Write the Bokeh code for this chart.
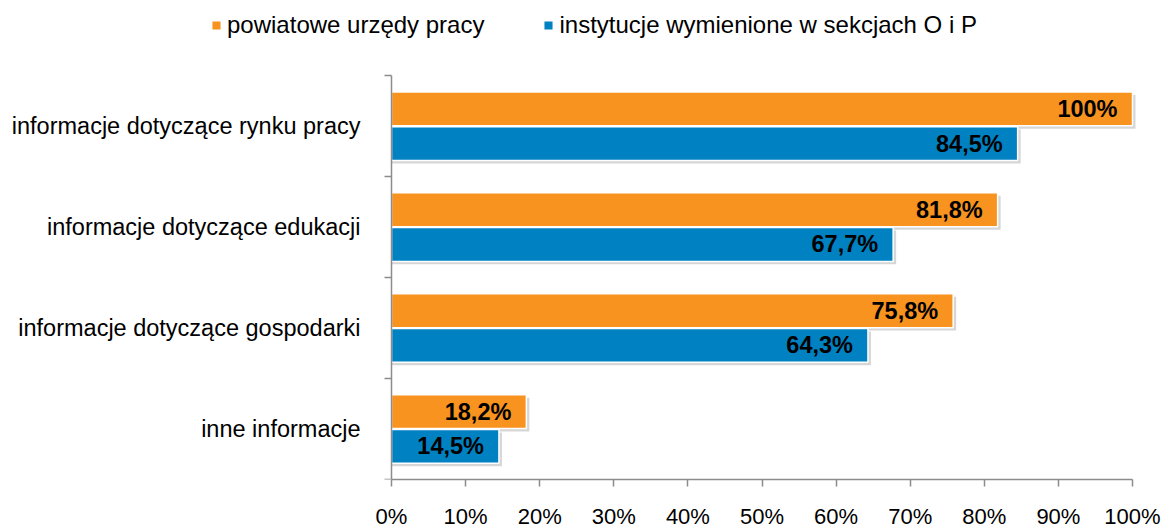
from bokeh.plotting import figure
from bokeh.models import Range1d, FixedTicker, Legend, LegendItem, ColumnDataSource
from bokeh.core.properties import value
from bokeh.embed import file_html
from bokeh.resources import INLINE

categories = ["informacje dotyczące rynku pracy", "informacje dotyczące edukacji",
              "informacje dotyczące gospodarki", "inne informacje"]
pup_values = [100, 81.8, 75.8, 18.2]
inst_values = [84.5, 67.7, 64.3, 14.5]
pup_labels = ["100%", "81,8%", "75,8%", "18,2%"]
inst_labels = ["84,5%", "67,7%", "64,3%", "14,5%"]
series_names = ["powiatowe urzędy pracy", "instytucje wymienione w sekcjach O i P"]
x_ticks = [0, 10, 20, 30, 40, 50, 60, 70, 80, 90, 100]

ORANGE = "#F7931E"
BLUE = "#0081C2"
AXIS = "#8C8C8C"
FONT = "Liberation Sans"

# layout (pixels)
W, H = 1165, 531
X0_PX, X100_PX = 391, 1132      # where 0% and 100% sit
TOP_PX, BOT_PX = 76, 484        # top / bottom of category area
BOTTOM_BORDER = H - BOT_PX

n = len(categories)
px_per_unit_x = (X100_PX - X0_PX) / 100.0
px_per_unit_y = (BOT_PX - TOP_PX) / n
x_lo = -X0_PX / px_per_unit_x
x_hi = 100 + (W - X100_PX) / px_per_unit_x
y_hi = n + TOP_PX / px_per_unit_y

centers = [n - i - 0.5 for i in range(n)]
off = 0.172
bar_h = 0.335
sh_x = 3 / px_per_unit_x
sh_y = 3 / px_per_unit_y

src_o = ColumnDataSource(dict(y=[c + off for c in centers], v=pup_values, lab=pup_labels,
                              ys=[c + off - sh_y for c in centers], vs=[v + sh_x for v in pup_values]))
src_b = ColumnDataSource(dict(y=[c - off for c in centers], v=inst_values, lab=inst_labels,
                              ys=[c - off - sh_y for c in centers], vs=[v + sh_x for v in inst_values]))

p = figure(width=W, height=H, output_backend="svg", toolbar_location=None,
           x_range=Range1d(x_lo, x_hi), y_range=Range1d(0, y_hi),
           min_border_left=0, min_border_right=0, min_border_top=0,
           min_border_bottom=BOTTOM_BORDER)
p.outline_line_color = None
p.grid.visible = False
p.background_fill_color = "white"

for src in (src_o, src_b):
    p.hbar(y="ys", left=0, right="vs", height=bar_h, source=src,
           fill_color="black", fill_alpha=0.16, line_color=None)

r_o = p.hbar(y="y", left=0, right="v", height=bar_h, source=src_o,
             fill_color=ORANGE, line_color="white", line_width=1.5)
r_b = p.hbar(y="y", left=0, right="v", height=bar_h, source=src_b,
             fill_color=BLUE, line_color="white", line_width=1.5)

for src in (src_o, src_b):
    p.text(x="v", y="y", text="lab", source=src, x_offset=-15,
           text_align="right", text_baseline="middle",
           text_font=value(FONT), text_font_size="23.5px", text_font_style="bold",
           text_color="black")

xa = p.xaxis[0]
xa.bounds = (0, 100)
xa.ticker = FixedTicker(ticks=x_ticks, minor_ticks=[])
xa.major_label_overrides = {t: f"{t}%" for t in x_ticks}
xa.major_label_text_font = FONT
xa.major_label_text_font_size = "22px"
xa.major_label_text_color = "black"
xa.axis_line_color = AXIS
xa.axis_line_width = 1.5
xa.major_tick_line_color = AXIS
xa.major_tick_line_width = 1.5
xa.major_tick_out = 7
xa.major_tick_in = 0
xa.major_label_standoff = 17

ya = p.yaxis[0]
ya.fixed_location = 0
ya.bounds = (0, n)
ya.ticker = FixedTicker(ticks=centers, minor_ticks=list(range(n + 1)))
ya.major_label_overrides = {c: categories[i] for i, c in enumerate(centers)}
ya.major_label_text_font = FONT
ya.major_label_text_font_size = "23.5px"
ya.major_label_text_color = "black"
ya.axis_line_color = AXIS
ya.axis_line_width = 1.5
ya.major_tick_out = 0
ya.major_tick_in = 0
ya.minor_tick_out = 7
ya.minor_tick_in = 0
ya.minor_tick_line_color = AXIS
ya.minor_tick_line_width = 1.5
ya.major_label_standoff = 24

legend = Legend(items=[LegendItem(label=series_names[0], renderers=[r_o]),
                       LegendItem(label=series_names[1], renderers=[r_b])],
                orientation="horizontal", location=(210, BOT_PX - 44),
                glyph_width=12, glyph_height=12, label_standoff=5, spacing=58,
                padding=0, margin=0, border_line_color=None, background_fill_alpha=0,
                label_text_font=FONT, label_text_font_size="24px", label_text_color="black")
p.add_layout(legend, "center")

open("out.html", "w").write(file_html(p, INLINE))
